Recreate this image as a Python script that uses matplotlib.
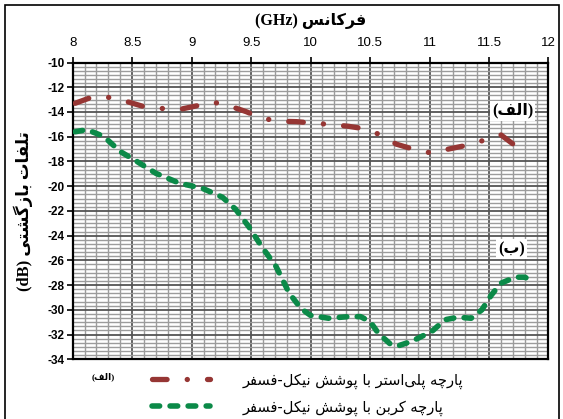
import matplotlib
matplotlib.use("Agg")
import matplotlib.pyplot as plt
import numpy as np
from matplotlib.patches import Rectangle
from matplotlib.ticker import MultipleLocator

# frequency (GHz) / return loss (dB)
freq_polyester = [8.02, 8.17, 8.32, 8.47, 8.60, 8.74, 8.90, 9.03, 9.18, 9.33, 9.46,
                  9.59, 9.74, 9.88, 10.03, 10.18, 10.32, 10.46, 10.60, 10.72, 10.86,
                  11.02, 11.16, 11.32, 11.46, 11.60, 11.71, 11.81]
loss_polyester = [-13.3, -12.77, -12.83, -13.2, -13.57, -13.71, -13.79, -13.53, -13.2,
                  -13.55, -13.98, -14.51, -14.75, -14.78, -14.91, -15.02, -15.16,
                  -15.37, -15.9, -16.6, -17.0, -17.33, -17.0, -16.68, -16.28, -15.85,
                  -16.65, -17.67]

freq_carbon = [8.02, 8.12, 8.26, 8.40, 8.54, 8.70, 8.90, 9.09, 9.26, 9.37, 9.48, 9.59,
               9.71, 9.82, 9.92, 10.0, 10.15, 10.32, 10.42, 10.50, 10.57, 10.68, 10.74,
               10.85, 11.02, 11.13, 11.24, 11.35, 11.44, 11.52, 11.60, 11.72, 11.80, 11.88]
loss_carbon = [-15.6, -15.43, -15.97, -17.2, -18.0, -18.96, -19.77, -20.17, -20.9,
               -21.87, -23.27, -24.9, -26.5, -28.65, -29.9, -30.45, -30.68, -30.55,
               -30.55, -30.95, -31.9, -32.85, -32.9, -32.55, -31.74, -30.8, -30.6,
               -30.68, -30.0, -28.8, -27.85, -27.36, -27.36, -27.7]

xticks = [8, 8.5, 9, 9.5, 10, 10.5, 11, 11.5, 12]
yticks = list(range(-34, -9, 2))

# small contextual shaper for the Persian labels (matplotlib has no shaping)
FORMS = {
    'ا': ('\uFE8D', '\uFE8E', None, None),
    'ب': ('\uFE8F', '\uFE90', '\uFE91', '\uFE92'),
    'پ': ('\uFB56', '\uFB57', '\uFB58', '\uFB59'),
    'ت': ('\uFE95', '\uFE96', '\uFE97', '\uFE98'),
    'چ': ('\uFB7A', '\uFB7B', '\uFB7C', '\uFB7D'),
    'ر': ('\uFEAD', '\uFEAE', None, None),
    'ز': ('\uFEAF', '\uFEB0', None, None),
    'س': ('\uFEB1', '\uFEB2', '\uFEB3', '\uFEB4'),
    'ش': ('\uFEB5', '\uFEB6', '\uFEB7', '\uFEB8'),
    'ف': ('\uFED1', '\uFED2', '\uFED3', '\uFED4'),
    'ک': ('\uFB8E', '\uFB8F', '\uFB90', '\uFB91'),
    'گ': ('\uFB92', '\uFB93', '\uFB94', '\uFB95'),
    'ل': ('\uFEDD', '\uFEDE', '\uFEDF', '\uFEE0'),
    'ن': ('\uFEE5', '\uFEE6', '\uFEE7', '\uFEE8'),
    'ه': ('\uFEE9', '\uFEEA', '\uFEEB', '\uFEEC'),
    'و': ('\uFEED', '\uFEEE', None, None),
    'ی': ('\uFBFC', '\uFBFD', '\uFBFE', '\uFBFF'),
}


def shape(s):
    out = []
    for i, c in enumerate(s):
        if c == '\u200c':
            continue
        if c not in FORMS:
            out.append(c)
            continue
        prev = s[i - 1] if i > 0 else ''
        nxt = s[i + 1] if i + 1 < len(s) else ''
        jp = prev in FORMS and FORMS[prev][2] is not None
        jn = FORMS[c][2] is not None and nxt in FORMS
        iso, fin, ini, med = FORMS[c]
        if jp and jn:
            out.append(med)
        elif jp:
            out.append(fin)
        elif jn:
            out.append(ini)
        else:
            out.append(iso)
    return ''.join(out)


def rtl(s):
    return shape(s)[::-1]


plt.rcParams['lines.scale_dashes'] = False
fig = plt.figure(figsize=(5.63, 4.19), dpi=100)
ax = fig.add_axes([0.1291, 0.1425, 0.8451, 0.7083])

red = '#963634'
green = '#0B8A48'

ax.plot(freq_polyester, loss_polyester, color=red, lw=3.8, dashes=(10.5, 14.5, 0.1, 14.5),
        dash_capstyle='round', solid_capstyle='round', zorder=3,
        label=rtl('پارچه پلی\u200cاستر با پوشش نیکل-فسفر'))
ax.plot(freq_carbon, loss_carbon, color=green, lw=4.0, dashes=(5.5, 7.5),
        dash_capstyle='round', zorder=3,
        label=rtl('پارچه کربن با پوشش نیکل-فسفر'))

ax.set_xlim(8, 12)
ax.set_ylim(-34, -10)
ax.set_xticks(xticks)
ax.set_xticklabels([f"{t:g}" for t in xticks], family='Liberation Sans', fontsize=9.5)
ax.set_yticks(yticks)
ax.set_yticklabels([str(t) for t in yticks], family='Liberation Sans', fontsize=8.5,
                   fontweight='bold')
ax.xaxis.set_minor_locator(MultipleLocator(0.1))
ax.yaxis.set_minor_locator(MultipleLocator(2 / 6))
ax.xaxis.tick_top()
ax.tick_params(axis='both', which='major', direction='out', length=4, width=1.2)
ax.tick_params(axis='both', which='minor', length=0)
ax.tick_params(axis='x', pad=6)
ax.tick_params(axis='y', pad=2)

ax.grid(which='minor', color='#9c9c9c', lw=1.0, zorder=1)
ax.grid(which='major', color='#555555', lw=1.3, zorder=2)
for s in ax.spines.values():
    s.set_linewidth(1.6)
ax.set_axisbelow(True)

ax.set_title('(GHz) ' + rtl('فرکانس'), family=['Liberation Serif', 'DejaVu Sans'],
             fontsize=11.5, fontweight='bold', pad=27)
ax.set_ylabel('(dB) ' + rtl('تلفات بازگشتی'), family=['Liberation Serif', 'DejaVu Sans'],
              fontsize=12, fontweight='bold', labelpad=10)

box = dict(facecolor='white', edgecolor='none', pad=1.5)
ax.text(11.70, -13.9, '(' + rtl('الف') + ')', ha='center', va='center', fontsize=11.5,
        fontweight='bold', family=['Liberation Serif', 'DejaVu Sans'], bbox=box, zorder=4)
ax.text(11.69, -25.1, '(' + rtl('ب') + ')', ha='center', va='center', fontsize=11.5,
        fontweight='bold', family=['Liberation Serif', 'DejaVu Sans'], bbox=box, zorder=4)

fig.text(103 / 563, 1 - 377 / 419, '(' + rtl('الف') + ')', ha='center', va='center',
         fontsize=6.5, fontweight='bold', family=['Liberation Serif', 'DejaVu Sans'])

fig.legend(loc='center left', bbox_to_anchor=(0.27, 1 - 394 / 419), frameon=False,
           fontsize=10.5, handlelength=4.0, handletextpad=2.2, labelspacing=0.75,
           borderaxespad=0, borderpad=0)

fig.patches.append(Rectangle((5 / 563, -0.02), 554 / 563, 1.0 - 5 / 419 + 0.02,
                             transform=fig.transFigure, fill=False, edgecolor='black',
                             lw=1.2))

fig.savefig('out.png', dpi=100)
